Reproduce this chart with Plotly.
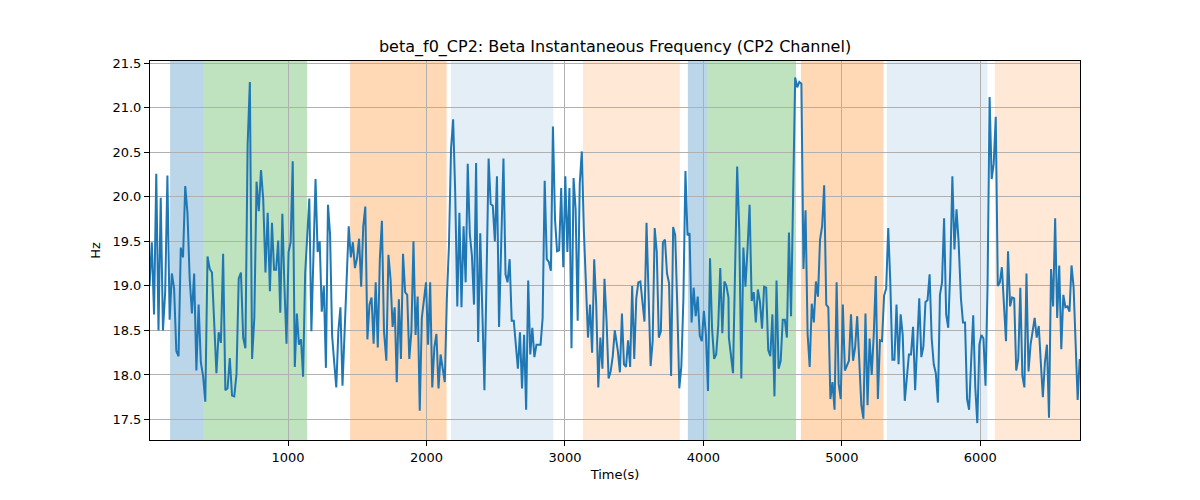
import numpy as np
import plotly.graph_objects as go

# ---- data ----
seg1 = [19.0, 19.49, 18.68, 20.26, 18.5, 19.99, 18.5, 18.93, 20.24, 18.62, 19.14, 18.97, 18.27, 18.21, 19.43, 19.32,
        20.12, 19.82, 19.08, 18.69, 19.14, 18.05, 18.79, 18.14, 17.99, 17.7, 19.33, 19.19, 19.15, 18.49, 18.02, 18.48,
        18.36, 19.36, 17.83, 17.85, 18.19, 17.77, 17.76, 18.01, 19.08, 19.15, 18.42, 18.3, 20.59, 21.29, 18.18, 18.64,
        20.17, 19.84, 20.3, 19.97, 19.15, 19.82]
seg2 = [18.94, 19.71, 19.18, 19.18, 19.51, 18.7, 19.81, 19.0, 18.35, 19.38, 19.49, 20.4, 18.09, 18.69, 18.34, 18.4,
        17.98, 19.14, 19.52, 19.98, 18.49, 19.52, 20.2, 19.38, 19.5, 18.71, 19.0, 18.08, 19.91, 19.58, 18.44, 18.14,
        17.86, 18.49, 18.76, 17.88, 18.49, 19.01, 19.67, 19.32, 19.49, 19.2, 19.31, 19.53, 18.99, 19.67, 19.89, 18.4,
        18.79, 18.87, 18.35, 19.04, 18.31, 19.3, 19.73, 18.49]
seg3 = [18.16, 19.35, 19.08, 18.54, 18.76, 17.92, 18.85, 18.18, 19.36, 18.93, 18.9, 18.18, 18.49, 19.5, 18.45, 18.88,
        17.6, 18.64, 18.86, 19.04, 18.34, 19.04, 17.86, 18.31, 18.46, 17.85, 18.23, 18.07, 17.92, 18.86, 19.45, 20.54,
        20.87, 20.04, 18.77, 19.82, 18.76, 19.67, 19.04, 20.37, 19.58, 19.34, 18.79, 20.38, 18.37, 19.59, 18.52, 17.83,
        19.08, 20.43, 19.92, 19.9, 19.5, 20.23, 18.54]
seg4 = [19.5, 20.43, 19.13, 19.04, 19.3, 18.61, 18.61, 18.38, 18.07, 18.48, 17.85, 18.45, 17.61, 19.06, 18.23, 18.53,
        18.2, 18.34, 18.34, 18.34, 18.64, 20.18, 19.3, 19.27, 19.17, 20.79, 19.75, 19.39, 19.4, 20.1, 19.21, 20.23,
        19.38, 20.1, 18.3, 20.21, 19.86, 18.61, 20.15, 20.51, 19.62, 18.93, 18.42, 18.79, 18.25, 19.3, 18.79, 17.86,
        18.42, 18.07, 19.08, 18.61, 17.96, 18.04, 18.21, 18.5]
seg5 = [18.27, 18.03, 18.69, 18.12, 18.09, 18.39, 18.09, 19.0, 18.18, 18.86, 19.04, 19.05, 18.85, 18.6, 19.71, 18.93,
        18.1, 18.38, 19.65, 19.38, 18.42, 18.49, 19.49, 19.52, 19.14, 19.03, 17.99, 19.66, 19.57, 18.79, 17.85, 18.1,
        18.85, 20.29, 19.57, 19.59, 18.59, 18.98, 18.66, 18.88, 18.44, 18.38, 18.72, 18.45, 17.82, 19.31, 18.52, 18.18,
        18.23, 18.55, 19.2, 18.47, 19.05, 19.0, 18.87]
seg6 = [18.42, 18.2, 18.02, 19.19, 20.34, 19.63, 17.96, 19.43, 18.99, 19.42, 19.91, 18.83, 18.93, 18.59, 18.96, 18.82,
        18.52, 18.99, 18.98, 18.28, 18.21, 18.68, 17.76, 19.06, 18.07, 18.16, 18.62, 18.62, 18.42, 19.6, 18.66, 20.0,
        21.34, 21.23, 21.29, 21.27, 19.19, 19.85, 18.46, 18.09, 18.8, 18.59, 19.05, 18.88, 19.52, 19.67, 20.13, 18.79,
        18.76, 17.73, 17.92, 17.61, 19.04, 17.9, 17.73, 18.79, 18.05]
seg7 = [18.16, 18.68, 18.16, 18.31, 18.66, 18.07, 17.66, 17.51, 18.69, 17.66, 18.41, 18.0, 18.45, 19.11, 17.73, 18.39,
        18.38, 18.89, 18.97, 19.65, 19.04, 18.17, 18.17, 18.79, 18.12, 18.68, 18.45, 17.71, 18.0, 18.23, 18.23, 18.54,
        17.83, 18.42, 18.86, 18.2, 18.32, 18.82, 18.84, 19.13, 18.41, 18.12, 18.02, 17.69, 18.9, 19.04, 19.76, 18.68,
        18.53, 19.19, 20.23, 19.41, 19.86, 19.5]
seg8 = [18.86, 18.59, 18.59, 17.73, 17.61, 18.16, 18.67, 17.86, 17.46, 18.34, 18.45, 18.41, 17.88, 19.0, 21.12, 20.2,
        20.37, 20.9, 19.0, 19.04, 19.21, 18.79, 18.38, 19.39, 18.77, 18.87, 18.86, 18.05, 18.18, 18.98, 17.99, 17.86,
        19.14, 18.04, 18.34, 18.49, 18.64, 18.42, 18.55, 18.14, 17.75, 18.14, 18.34, 17.52, 19.19, 18.77, 19.76, 18.64,
        19.23, 18.29, 18.9, 18.76, 18.77, 18.71, 19.23, 18.99, 18.34, 17.72, 18.18]

segments = [seg1, seg2, seg3, seg4, seg5, seg6, seg7, seg8]
# time (s) of the first and last sample of each segment
seg_t_first = [0, 869, 1710, 2541, 3382, 4184, 5051, 5860]
seg_t_last = [853, 1693, 2524, 3360, 4181, 5022, 5843, 6718]

time_s = np.concatenate([np.linspace(a, b, len(s)) for s, a, b in zip(segments, seg_t_first, seg_t_last)])
freq_hz = np.concatenate([np.array(s) for s in segments])

# shaded intervals (start, end, colour)
span_starts = [148, 386, 1448, 2177, 3130, 3888, 4025, 4704, 5325, 6105]
span_ends = [386, 1137, 2145, 2916, 3830, 4025, 4669, 5300, 6052, 6720]
span_colors = ["rgba(31,119,180,0.3)", "rgba(44,160,44,0.3)", "rgba(255,127,14,0.3)", "rgba(31,119,180,0.12)",
               "rgba(255,127,14,0.17)", "rgba(31,119,180,0.3)", "rgba(44,160,44,0.3)", "rgba(255,127,14,0.3)",
               "rgba(31,119,180,0.12)", "rgba(255,127,14,0.17)"]

x_ticks = [1000, 2000, 3000, 4000, 5000, 6000]
y_ticks = [17.5, 18.0, 18.5, 19.0, 19.5, 20.0, 20.5, 21.0, 21.5]

fig = go.Figure()
fig.add_trace(go.Scatter(x=time_s, y=freq_hz, mode="lines",
                         line=dict(color="#1f77b4", width=2), showlegend=False))

for s, e, c in zip(span_starts, span_ends, span_colors):
    fig.add_vrect(x0=s, x1=e, fillcolor=c, line_width=0, layer="below")

axis_common = dict(showline=True, mirror=True, linecolor="black", linewidth=1,
                   showgrid=True, gridcolor="#b0b0b0", gridwidth=1,
                   ticks="outside", ticklen=5, tickcolor="black", zeroline=False,
                   tickfont=dict(size=13, color="black"))

fig.update_xaxes(range=[3, 6720], tickvals=x_ticks, ticktext=[str(v) for v in x_ticks],
                 title=dict(text="Time(s)", font=dict(size=13, color="black"), standoff=6), **axis_common)
fig.update_yaxes(range=[17.27, 21.525], tickvals=y_ticks, ticktext=[f"{v:.1f}" for v in y_ticks],
                 title=dict(text="Hz", font=dict(size=13, color="black"), standoff=8), **axis_common)

fig.update_layout(
    width=1184, height=484,
    margin=dict(l=142, r=112, t=53, b=47),
    paper_bgcolor="white", plot_bgcolor="white",
    font=dict(family="DejaVu Sans", color="black"),
    title=dict(text="beta_f0_CP2: Beta Instantaneous Frequency (CP2 Channel)",
               x=0.5127, xanchor="center", y=0.9215, yanchor="middle", font=dict(size=16, color="black")),
)

fig.write_html("out.html")
